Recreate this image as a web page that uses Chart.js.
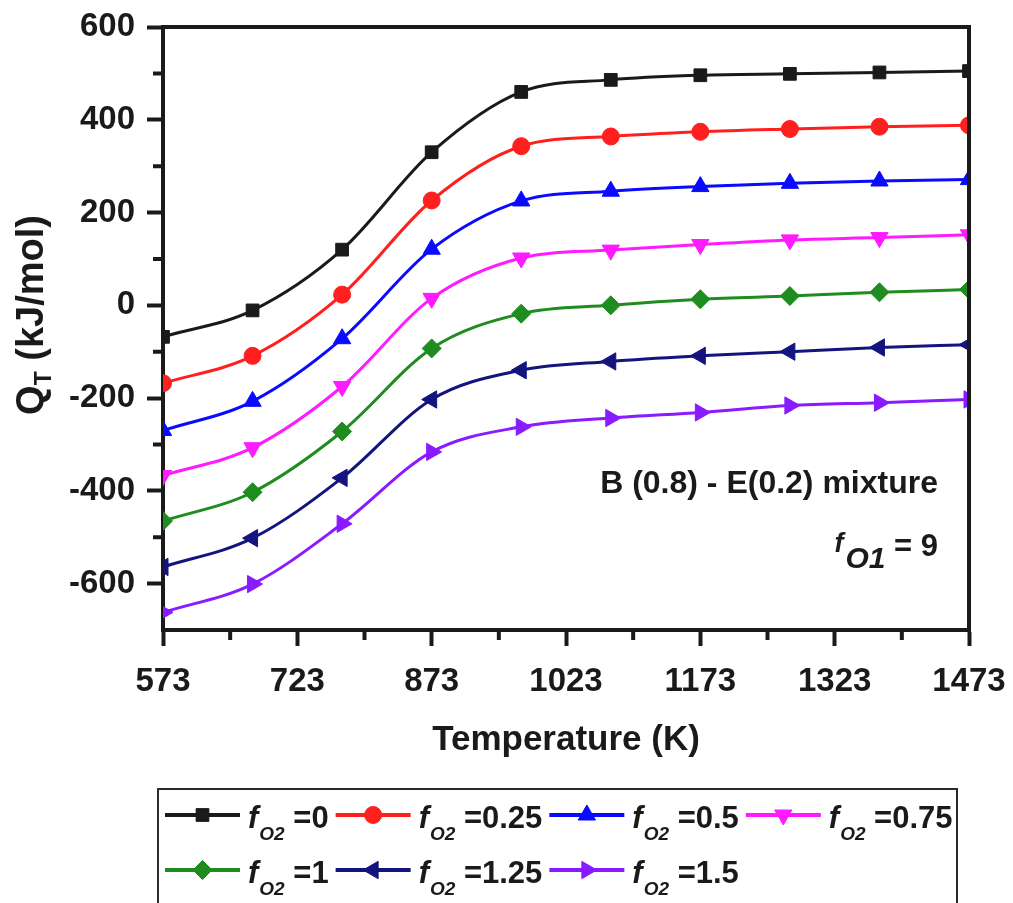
<!DOCTYPE html>
<html>
<head>
<meta charset="utf-8">
<script src="https://cdn.jsdelivr.net/npm/chart.js@4.4.1/dist/chart.umd.min.js"></script>
<style>
  html, body { margin: 0; padding: 0; background: #ffffff; }
  #wrap { width: 1013px; height: 903px; }
</style>
</head>
<body>
<div id="wrap"><canvas id="qtChart" width="1013" height="903"></canvas></div>
<script>
// Temperature (K) of every data point
const temps = [573, 673, 773, 873, 973, 1073, 1173, 1273, 1373, 1473];

// f_O2 values (legend) and Q_T (kJ/mol) for each one
const fO2Labels = ['0', '0.25', '0.5', '0.75', '1', '1.25', '1.5'];
const qF0    = [-68, -11, 120, 330, 460, 486, 496, 499, 502, 505];
const qF025  = [-168, -109, 23, 226, 343, 364, 374, 380, 385, 388];
const qF05   = [-270, -207, -72, 121, 225, 246, 256, 263, 268, 271];
const qF075  = [-367, -307, -175, 15, 102, 119, 131, 141, 146, 152];
const qF1    = [-465, -403, -272, -93, -18, 0, 13, 20, 28, 34];
const qF125  = [-564, -502, -372, -203, -140, -121, -109, -100, -91, -85];
const qF15   = [-662, -601, -471, -316, -262, -243, -231, -216, -210, -203];

// axis ticks
const xTicks = [573, 723, 873, 1023, 1173, 1323, 1473];
const yTicks = [-600, -400, -200, 0, 200, 400, 600];

const seriesValues = [qF0, qF025, qF05, qF075, qF1, qF125, qF15];
const colors = ['#1a1a1a', '#ff1f1f', '#0a0aff', '#ff1aff', '#1f8c1f', '#14147f', '#8a1aff'];
const pointStyles = ['rect', 'circle', 'triangle', 'triangle', 'rectRot', 'triangle', 'triangle'];
const rotations = [0, 0, 0, 180, 0, 270, 90];
const radii = [9, 8.5, 10, 10, 9.5, 10, 10];

const INK = '#1a1a1a';
const FONT = '"Liberation Sans", Arial, Helvetica, sans-serif';

// draws a row of text runs (for italic f and subscripts), returns total width
function drawRuns(ctx, runs, x, y, measureOnly) {
    let cx = x;
    runs.forEach(r => {
        ctx.font = r.font;
        if (!measureOnly) ctx.fillText(r.text, cx, y + (r.dy || 0));
        cx += ctx.measureText(r.text).width + (r.gap || 0);
    });
    return cx - x;
}

function legendRuns(val) {
    return [
        { text: 'f', font: 'italic bold 31px ' + FONT, dy: 0, gap: 1 },
        { text: 'O2', font: 'italic bold 19px ' + FONT, dy: 12 },
        { text: ' =' + val, font: 'bold 31px ' + FONT, dy: 0 }
    ];
}

function drawMarker(ctx, i, x, y) {
    ctx.save();
    ctx.fillStyle = colors[i];
    ctx.strokeStyle = colors[i];
    ctx.lineWidth = 1;
    Chart.helpers.drawPoint(ctx, {
        pointStyle: pointStyles[i],
        rotation: rotations[i],
        radius: radii[i],
        borderWidth: 1
    }, x, y);
    ctx.restore();
}

const decorPlugin = {
    id: 'decor',
    afterDraw(chart) {
        const ctx = chart.ctx;
        const area = chart.chartArea;
        const xs = chart.scales.x;
        const ys = chart.scales.y;

        ctx.save();
        // top and right frame
        ctx.strokeStyle = INK;
        ctx.lineWidth = 4;
        ctx.lineCap = 'square';
        ctx.beginPath();
        ctx.moveTo(area.left, area.top);
        ctx.lineTo(area.right, area.top);
        ctx.lineTo(area.right, area.bottom);
        ctx.stroke();

        // minor ticks
        ctx.lineCap = 'butt';
        ctx.beginPath();
        for (let i = 0; i < xTicks.length - 1; i++) {
            const px = xs.getPixelForValue((xTicks[i] + xTicks[i + 1]) / 2);
            ctx.moveTo(px, area.bottom);
            ctx.lineTo(px, area.bottom + 10);
        }
        for (let i = 0; i < yTicks.length - 1; i++) {
            const py = ys.getPixelForValue((yTicks[i] + yTicks[i + 1]) / 2);
            ctx.moveTo(area.left, py);
            ctx.lineTo(area.left - 10, py);
        }
        ctx.stroke();

        ctx.fillStyle = INK;
        ctx.textBaseline = 'alphabetic';

        // x title
        ctx.font = 'bold 35px ' + FONT;
        ctx.textAlign = 'center';
        ctx.fillText('Temperature (K)', (area.left + area.right) / 2, 750);

        // y title, rotated
        ctx.save();
        ctx.translate(43, 315);
        ctx.rotate(-Math.PI / 2);
        ctx.textAlign = 'left';
        const yRuns = [
            { text: 'Q', font: 'bold 38px ' + FONT },
            { text: 'T', font: 'bold 23px ' + FONT, dy: 8 },
            { text: ' (kJ/mol)', font: 'bold 38px ' + FONT }
        ];
        const yw = drawRuns(ctx, yRuns, 0, 0, true);
        drawRuns(ctx, yRuns, -yw / 2, 0);
        ctx.restore();

        // annotation texts
        ctx.textAlign = 'left';
        ctx.font = 'bold 32px ' + FONT;
        const t1 = 'B (0.8) - E(0.2) mixture';
        const rightEdge = 938;
        ctx.fillText(t1, rightEdge - ctx.measureText(t1).width, 493);
        const fRuns = [
            { text: 'f', font: 'italic bold 27px ' + FONT, dy: -4, gap: 2 },
            { text: 'O1', font: 'italic bold 30px ' + FONT, dy: 12 },
            { text: ' = 9', font: 'bold 31px ' + FONT, dy: 0 }
        ];
        const fw = drawRuns(ctx, fRuns, 0, 0, true);
        drawRuns(ctx, fRuns, rightEdge - fw, 556);

        // legend box
        ctx.strokeStyle = '#2a2a2a';
        ctx.lineWidth = 2;
        ctx.strokeRect(158, 789, 799, 200);

        const perRow = 4;
        const lineLen = 75;
        const rowsY = [815, 870];
        // column widths from widest entry in each column
        const colW = [];
        fO2Labels.forEach((v, i) => {
            const c = i % perRow;
            const w = lineLen + 8 + drawRuns(ctx, legendRuns(v), 0, 0, true);
            colW[c] = Math.max(colW[c] || 0, w);
        });
        fO2Labels.forEach((v, i) => {
            const c = i % perRow;
            const r = Math.floor(i / perRow);
            let x0 = 165;
            for (let k = 0; k < c; k++) x0 += colW[k] + 7;
            const y0 = rowsY[r];
            ctx.strokeStyle = colors[i];
            ctx.lineWidth = 4;
            ctx.beginPath();
            ctx.moveTo(x0, y0);
            ctx.lineTo(x0 + lineLen, y0);
            ctx.stroke();
            drawMarker(ctx, i, x0 + lineLen / 2, y0);
            ctx.fillStyle = INK;
            drawRuns(ctx, legendRuns(v), x0 + lineLen + 8, y0 + 13);
        });
        ctx.restore();
    }
};

const datasets = seriesValues.map((vals, i) => ({
    label: 'fO2 =' + fO2Labels[i],
    data: temps.map((t, k) => ({ x: t, y: vals[k] })),
    borderColor: colors[i],
    backgroundColor: colors[i],
    borderWidth: 3,
    cubicInterpolationMode: 'monotone',
    pointStyle: pointStyles[i],
    rotation: rotations[i],
    pointRadius: radii[i],
    pointBorderWidth: 1,
    pointBorderColor: colors[i],
    pointBackgroundColor: colors[i]
}));

new Chart(document.getElementById('qtChart'), {
    type: 'line',
    data: { datasets: datasets },
    options: {
        responsive: false,
        animation: false,
        layout: { padding: { left: 0, top: 27, right: 44, bottom: 0 } },
        plugins: {
            legend: { display: false },
            tooltip: { enabled: false }
        },
        scales: {
            x: {
                type: 'linear',
                min: 573,
                max: 1473,
                afterBuildTicks: s => { s.ticks = xTicks.map(v => ({ value: v })); },
                afterFit: s => { s.height = 273; s.paddingLeft = 0; s.paddingRight = 0; },
                border: { display: true, color: INK, width: 4 },
                grid: {
                    drawOnChartArea: false,
                    drawTicks: true,
                    tickLength: 16,
                    tickWidth: 4,
                    tickColor: INK
                },
                ticks: {
                    color: INK,
                    padding: 16,
                    maxRotation: 0,
                    font: { family: FONT, size: 33, weight: 'bold' },
                    callback: v => String(v)
                }
            },
            y: {
                min: -700,
                max: 600,
                afterBuildTicks: s => { s.ticks = yTicks.map(v => ({ value: v })); },
                afterFit: s => { s.width = 163; s.paddingTop = 0; s.paddingBottom = 0; },
                border: { display: true, color: INK, width: 4 },
                grid: {
                    drawOnChartArea: false,
                    drawTicks: true,
                    tickLength: 16,
                    tickWidth: 4,
                    tickColor: INK
                },
                ticks: {
                    color: INK,
                    padding: 12,
                    font: { family: FONT, size: 33, weight: 'bold' },
                    callback: v => String(v)
                }
            }
        }
    },
    plugins: [decorPlugin]
});
</script>
</body>
</html>
